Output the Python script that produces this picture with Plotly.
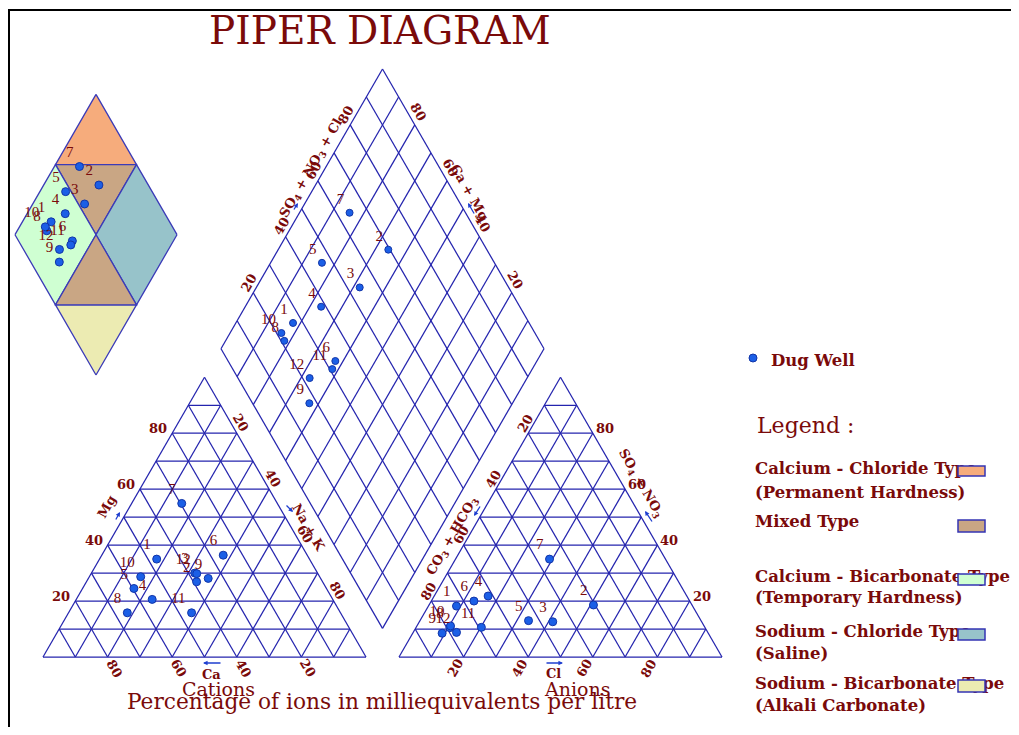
import math
import plotly.graph_objects as go

# ---------------- data ----------------
sample_ids = ["1", "2", "3", "4", "5", "6", "7", "8", "9", "10", "11", "12"]
ca_pct = [47.3, 39.0, 38.0, 55.9, 59.6, 26.0, 29.6, 66.0, 34.8, 55.4, 46.1, 37.5]
mg_pct = [35.0, 26.9, 30.0, 20.6, 24.5, 36.4, 54.9, 15.8, 28.1, 28.7, 15.8, 29.8]
nak_pct = [17.7, 34.1, 32.0, 23.5, 15.9, 37.6, 15.5, 18.2, 37.1, 15.9, 38.1, 32.7]
hco3_pct = [73.1, 30.5, 46.1, 61.5, 53.4, 66.8, 35.9, 79.0, 82.4, 78.5, 69.2, 77.8]
so4_pct = [18.2, 18.6, 12.6, 21.8, 13.0, 20.0, 35.0, 10.5, 8.5, 11.1, 10.6, 8.8]
cl_pct = [8.7, 50.9, 41.3, 16.7, 33.6, 13.2, 29.1, 10.5, 9.1, 10.4, 20.2, 13.4]
tick_values = [20, 40, 60, 80]

legend_titles = ["Calcium - Chloride Type", "Mixed Type", "Calcium - Bicarbonate Type",
                 "Sodium - Chloride Type", "Sodium - Bicarbonate Type"]
legend_notes = ["(Permanent Hardness)", "", "(Temporary Hardness)", "(Saline)", "(Alkali Carbonate)"]
type_colors = ["#F6AC7C", "#C9A684", "#CFFFD2", "#97C3CA", "#ECEBB2"]

# ---------------- styling / geometry ----------------
MAROON = "#7A0A0A"
GRID = "#2424AE"
PT_FILL = "#1B5FE6"
PT_LINE = "#1235A8"
SERIF = "DejaVu Serif"
TIMES = "Liberation Serif"

SQ3 = math.sqrt(3) / 2
S = 323.0            # triangle side (px)
H = S * SQ3
Y0 = 657.0           # base line of the triangles
XC0 = 43.0           # left corner of cation triangle
XA0 = 399.0          # left corner of anion triangle
GAP = XA0 - (XC0 + S)
BX = XC0 + S + GAP / 2
BY = Y0 - GAP * SQ3
# small classification diamond
MBX, MBY, MS = 96.0, 375.0, 162.0


def cat_xy(mg, na):
    return XC0 + S * (na + mg / 2) / 100, Y0 - H * mg / 100


def an_xy(so4, cl):
    return XA0 + S * (cl + so4 / 2) / 100, Y0 - H * so4 / 100


def dia_xy(c, s, bx=BX, by=BY, side=S):
    return bx + side / 2 * (s - c) / 100, by - side * SQ3 * (s + c) / 100


fig = go.Figure()


def add_lines(segs, color=GRID, width=1.25):
    xs, ys = [], []
    for (x1, y1), (x2, y2) in segs:
        xs += [x1, x2, None]
        ys += [y1, y2, None]
    fig.add_trace(go.Scatter(x=xs, y=ys, mode="lines", line=dict(color=color, width=width),
                             hoverinfo="skip"))


def tri_segments(A, B, C):
    segs = [(A, B), (B, C), (C, A)]
    for k in range(1, 10):
        t = k / 10
        pa = (A[0] + t * (C[0] - A[0]), A[1] + t * (C[1] - A[1]))
        pb = (B[0] + t * (C[0] - B[0]), B[1] + t * (C[1] - B[1]))
        segs.append((pa, pb))
        p = (A[0] + t * (B[0] - A[0]), A[1] + t * (B[1] - A[1]))
        q = (C[0] + t * (B[0] - C[0]), C[1] + t * (B[1] - C[1]))
        segs.append((p, q))
        segs.append((p, pa))
    return segs


catA, catB, catC = (XC0, Y0), (XC0 + S, Y0), (XC0 + S / 2, Y0 - H)
anA, anB, anC = (XA0, Y0), (XA0 + S, Y0), (XA0 + S / 2, Y0 - H)
add_lines(tri_segments(catA, catB, catC))
add_lines(tri_segments(anA, anB, anC))

dsegs = []
for k in range(0, 11):
    v = k * 10
    dsegs.append((dia_xy(0, v), dia_xy(100, v)))
    dsegs.append((dia_xy(v, 0), dia_xy(v, 100)))
add_lines(dsegs)

# ---------------- small classification diamond ----------------
regions = [
    [(100, 100), (100, 50), (50, 100)],
    [(100, 50), (50, 100), (50, 50)],
    [(100, 0), (100, 50), (50, 50), (50, 0)],
    [(0, 100), (50, 100), (50, 50), (0, 50)],
    [(0, 0), (50, 0), (0, 50)],
    [(50, 50), (50, 0), (0, 50)],
]
region_color_idx = [0, 1, 2, 3, 4, 1]
for poly, ci in zip(regions, region_color_idx):
    pts = [dia_xy(c, s, MBX, MBY, MS) for c, s in poly]
    fig.add_trace(go.Scatter(x=[p[0] for p in pts] + [pts[0][0]], y=[p[1] for p in pts] + [pts[0][1]],
                             mode="lines", fill="toself", fillcolor=type_colors[ci],
                             line=dict(color="#3B3BB8", width=1.3), hoverinfo="skip"))

# ---------------- points ----------------
ca_mg = [a + b for a, b in zip(ca_pct, mg_pct)]
so4_cl = [a + b for a, b in zip(so4_pct, cl_pct)]
cat_pts = [cat_xy(m, n) for m, n in zip(mg_pct, nak_pct)]
an_pts = [an_xy(s, c) for s, c in zip(so4_pct, cl_pct)]
dia_pts = [dia_xy(c, s) for c, s in zip(ca_mg, so4_cl)]
mini_pts = [dia_xy(c, s, MBX, MBY, MS) for c, s in zip(ca_mg, so4_cl)]

for pts, size in [(cat_pts, 8), (an_pts, 8), (dia_pts, 7), (mini_pts, 8)]:
    fig.add_trace(go.Scatter(
        x=[p[0] for p in pts], y=[p[1] for p in pts], mode="markers+text",
        text=sample_ids, textposition="top left",
        textfont=dict(family=TIMES, size=15, color=MAROON),
        marker=dict(size=size, color=PT_FILL, line=dict(color=PT_LINE, width=1)),
        cliponaxis=False, hoverinfo="skip"))

# legend marker
fig.add_trace(go.Scatter(x=[753], y=[358], mode="markers",
                         marker=dict(size=8, color=PT_FILL, line=dict(color=PT_LINE, width=1)),
                         hoverinfo="skip"))

# legend texts (as trace text so the swatches can cover them)
leg_y_title = [470, 523, 578, 633, 685]
leg_y_note = [494, None, 599, 655, 707]
lx, ly, lt = [], [], []
for t, n, y1, y2 in zip(legend_titles, legend_notes, leg_y_title, leg_y_note):
    lx.append(755); ly.append(y1); lt.append(t)
    if n:
        lx.append(755); ly.append(y2); lt.append(n)
lx.append(771); ly.append(362); lt.append("Dug Well")
fig.add_trace(go.Scatter(x=lx, y=ly, text=lt, mode="text", textposition="middle right",
                         textfont=dict(family=SERIF, size=16.5, color=MAROON, weight="bold"),
                         cliponaxis=False, hoverinfo="skip"))

shapes = []
box_y = [(466, 476), (520, 532), (574, 585), (629, 640), (680, 692)]
for (y1, y2), col in zip(box_y, type_colors):
    shapes.append(dict(type="rect", xref="x", yref="y", x0=958, x1=985, y0=y1, y1=y2,
                       fillcolor=col, line=dict(color="#3434B4", width=1.5), layer="above"))
# frame lines
shapes.append(dict(type="line", xref="x", yref="y", x0=8, x1=1011, y0=10, y1=10,
                   line=dict(color="black", width=2)))
shapes.append(dict(type="line", xref="x", yref="y", x0=9, x1=9, y0=9, y1=727,
                   line=dict(color="black", width=2)))

# ---------------- annotations ----------------
ann = []


def text(x, y, s, size=13, angle=0, bold=True, family=SERIF, xanchor="center", color=MAROON):
    ann.append(dict(x=x, y=y, xref="x", yref="y", text=s, showarrow=False, textangle=angle,
                    xanchor=xanchor, yanchor="middle",
                    font=dict(family=family, size=size, color=color,
                              weight="bold" if bold else "normal")))


def arrow(x, y, ax, ay):
    ann.append(dict(x=x, y=y, xref="x", yref="y", ax=ax, ay=ay, text="", showarrow=True,
                    arrowhead=2, arrowsize=0.7, arrowwidth=1.3, arrowcolor="#1F3FD0"))


for v in tick_values:
    # cation triangle
    x, y = XC0 + S * v / 200, Y0 - H * v / 100
    text(x - 3, y - 5, str(v), xanchor="right")
    x, y = catC[0] + S / 2 * v / 100, catC[1] + H * v / 100
    text(x + 4, y - 11, str(v), angle=60)
    x = XC0 + S * (100 - v) / 100
    text(x + 7, Y0 + 11, str(v), angle=60)
    # anion triangle
    x, y = anC[0] - S / 2 * v / 100, anC[1] + H * v / 100
    text(x - 3, y - 10, str(v), angle=-60)
    x, y = XA0 + S - S * v / 200, Y0 - H * v / 100
    text(x + 1, y - 5, str(v), xanchor="left")
    x = XA0 + S * v / 100
    text(x - 9, Y0 + 11, str(v), angle=-60)
    # diamond
    x, y = dia_xy(100, v)
    text(x - 4, y - 10, str(v), angle=-60)
    x, y = dia_xy(v, 100)
    text(x + 3, y - 13, str(v), angle=60)

# axis names
text(106, 507, "Mg", angle=-60)
arrow(120, 512, -5, 9)
text(309, 527, "Na + K", angle=60)
arrow(293, 512, -8, -8)
text(211, 674, "Ca")
arrow(203, 663, 19, 0)
text(218, 689, "Cations", size=19, bold=False)

text(452, 536, "CO<sub>3</sub> + HCO<sub>3</sub>", angle=-60)
arrow(474, 516, 7, -11)
text(641, 483, "SO<sub>4</sub> + NO<sub>3</sub>", angle=60)
arrow(645, 511, 8, 12)
text(553, 673, "Cl")
arrow(563, 663, -18, 0)
text(577, 689, "Anions", size=19, bold=False)

text(311, 168, "SO<sub>4</sub> + NO<sub>3</sub> + Cl", angle=-60)
arrow(298, 203, -5, 8)
text(470, 192, "Ca + Mg", angle=60)
arrow(468, 203, 7, 12)

text(380, 30, "PIPER DIAGRAM", size=39, bold=False)
text(382, 701, "Percentage of ions in milliequivalents per litre", size=21.7, bold=False)
text(755, 425, "Legend :", size=22, bold=False, xanchor="left")

fig.update_layout(
    width=1003, height=719, margin=dict(l=0, r=0, t=0, b=0),
    paper_bgcolor="white", plot_bgcolor="white", showlegend=False,
    xaxis=dict(range=[8, 1011], visible=False, fixedrange=True),
    yaxis=dict(range=[727, 8], visible=False, fixedrange=True),
    shapes=shapes, annotations=ann,
)

fig.write_html("out.html")
